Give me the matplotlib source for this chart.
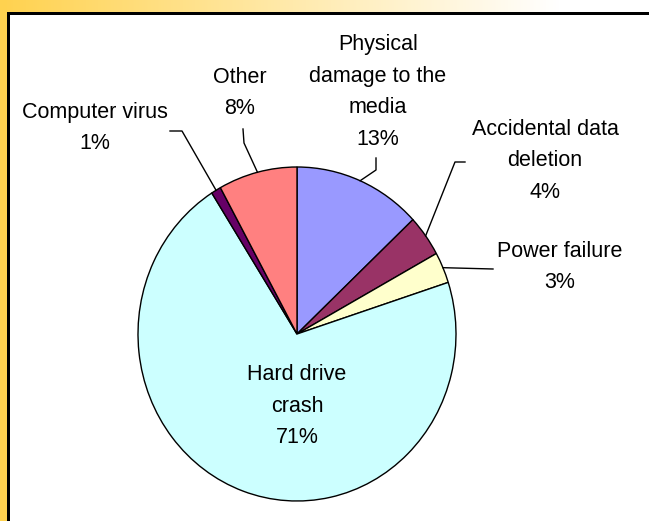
import numpy as np
import matplotlib
matplotlib.use("Agg")
import matplotlib.pyplot as plt
from matplotlib.colors import LinearSegmentedColormap

labels = ["Physical\ndamage to the\nmedia", "Accidental data\ndeletion", "Power failure",
          "Hard drive\ncrash", "Computer virus", "Other"]
shares = [13, 4, 3, 71, 1, 8]
colors = ["#9999FF", "#993366", "#FFFFCC", "#CCFFFF", "#660066", "#FF8080"]

W, H = 649, 521
fig = plt.figure(figsize=(W / 100, H / 100), dpi=100)

# background frame (pixel coordinates)
bg = fig.add_axes([0, 0, 1, 1])
bg.set_xlim(0, W)
bg.set_ylim(H, 0)
bg.axis("off")
gold = LinearSegmentedColormap.from_list("gold", ["#FFD24F", "#FFE9A8", "#FFFFFF"])
grad = np.linspace(0, 1, 256).reshape(1, -1)
bg.imshow(grad, cmap=gold, extent=(0, 560, 12, 0), aspect="auto", zorder=0)
bg.add_patch(plt.Rectangle((0, 0), 7, H, color="#FFD24F", lw=0, zorder=1))
bg.add_patch(plt.Rectangle((7, 12), W, 3, color="black", lw=0, zorder=2))
bg.add_patch(plt.Rectangle((7, 12), 2.5, H, color="black", lw=0, zorder=2))
bg.add_patch(plt.Rectangle((9.5, 15), W, H, color="white", lw=0, zorder=1))

# pie axes, slightly taller than wide like the original
cx, cy, rx, ry = 297, 334, 159, 167
ax = fig.add_axes([(cx - rx) / W, 1 - (cy + ry) / H, 2 * rx / W, 2 * ry / H])
ax.pie(shares, colors=colors, startangle=90, counterclock=False,
       wedgeprops=dict(edgecolor="black", linewidth=1))
ax.set_xlim(-1, 1)
ax.set_ylim(-1, 1)
ax.set_aspect("auto")
ax.axis("off")

# overlay for labels and leader lines
top = fig.add_axes([0, 0, 1, 1])
top.set_xlim(0, W)
top.set_ylim(H, 0)
top.axis("off")
top.patch.set_alpha(0)

fs = 15.5
font = "Liberation Sans"

# label layout: text centre, leader elbow points (pixels)
layout = {
    0: ((378, 92), [(376, 170), (376, 158)]),
    1: ((545, 161), [(455, 162), (465, 162)]),
    2: ((560, 267), [(493, 269)]),
    3: ((297, 406), None),
    4: ((95, 128), [(182, 131), (170, 131)]),
    5: ((240, 93), [(244, 143), (243, 129)]),
}

cum = np.cumsum([0] + shares)
total = sum(shares)
for i, (lab, val) in enumerate(zip(labels, shares)):
    (tx, ty), elbows = layout[i]
    top.text(tx, ty, f"{lab}\n{val}%", ha="center", va="center", linespacing=1.65,
             fontsize=fs, family=font, color="black", zorder=5)
    if elbows:
        mid = np.deg2rad(90 - (cum[i] + val / 2) / total * 360)
        ax_pt = (cx + rx * np.cos(mid), cy - ry * np.sin(mid))
        pts = [ax_pt] + elbows
        top.plot([p[0] for p in pts], [p[1] for p in pts], color="black", lw=1, zorder=4)

fig.savefig("out.png", dpi=100)
